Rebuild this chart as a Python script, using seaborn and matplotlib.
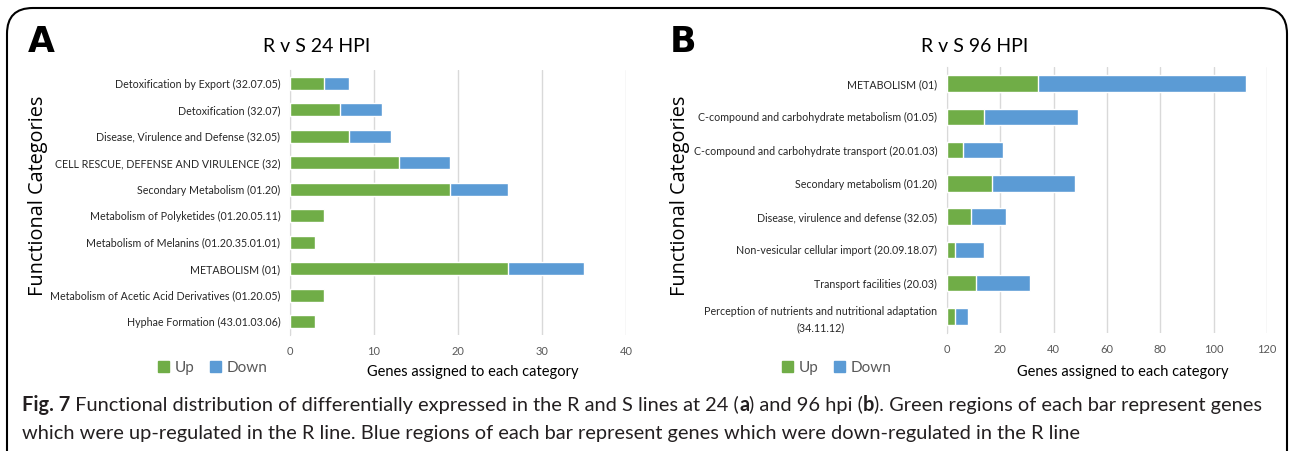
import numpy as np
import pandas as pd
import matplotlib
matplotlib.use("Agg")
import matplotlib.pyplot as plt
from matplotlib.patches import FancyBboxPatch, Patch
import seaborn as sns

CATS_24 = [
    "Detoxification by Export (32.07.05)",
    "Detoxification (32.07)",
    "Disease, Virulence and Defense (32.05)",
    "CELL RESCUE, DEFENSE AND VIRULENCE (32)",
    "Secondary Metabolism (01.20)",
    "Metabolism of Polyketides (01.20.05.11)",
    "Metabolism of Melanins (01.20.35.01.01)",
    "METABOLISM (01)",
    "Metabolism of Acetic Acid Derivatives (01.20.05)",
    "Hyphae Formation (43.01.03.06)",
]
UP_24 = [4, 6, 7, 13, 19, 4, 3, 26, 4, 3]
DOWN_24 = [3, 5, 5, 6, 7, 0, 0, 9, 0, 0]

CATS_96 = [
    "METABOLISM (01)",
    "C-compound and carbohydrate metabolism (01.05)",
    "C-compound and carbohydrate transport (20.01.03)",
    "Secondary metabolism (01.20)",
    "Disease, virulence and defense (32.05)",
    "Non-vesicular cellular import (20.09.18.07)",
    "Transport facilities (20.03)",
    "Perception of nutrients and nutritional adaptation\n(34.11.12)",
]
UP_96 = [34, 14, 6, 17, 9, 3, 11, 3]
DOWN_96 = [78, 35, 15, 31, 13, 11, 20, 5]

GREEN = "#70AD47"
BLUE = "#5B9BD5"
GRID = "#D9D9D9"
FONT = ["Lato", "DejaVu Sans"]

sns.set_style("white")
plt.rcParams["font.family"] = FONT

fig = plt.figure(figsize=(12.9, 4.51), dpi=100)


def draw_panel(ax, cats, up, down, xmax, step):
    df = pd.DataFrame({"cat": cats, "up": up, "total": np.add(up, down)})
    sns.barplot(data=df, x="total", y="cat", orient="h", color=BLUE,
                saturation=1, width=0.5, ax=ax, zorder=3)
    sns.barplot(data=df, x="up", y="cat", orient="h", color=GREEN,
                saturation=1, width=0.5, ax=ax, zorder=4)
    ax.set_xlim(0, xmax)
    ax.set_ylim(len(cats) - 0.5, -0.5)
    ax.set_xticks(np.arange(0, xmax + 1, step))
    ax.grid(axis="x", color=GRID, lw=1, zorder=0)
    for s in ["top", "right", "bottom"]:
        ax.spines[s].set_visible(False)
    ax.spines["left"].set_color(GRID)
    ax.tick_params(axis="both", length=0)
    ax.tick_params(axis="x", labelsize=8, labelcolor="#595959", pad=8)
    ax.tick_params(axis="y", labelsize=7.7, labelcolor="#262626", pad=7)
    ax.set_xlabel("")
    ax.set_ylabel("")
    for lab in ax.get_yticklabels():
        lab.set_multialignment("center")
        lab.set_linespacing(1.6)


ax1 = fig.add_axes([290 / 1290, 1 - 335 / 451, 336 / 1290, 265 / 451])
draw_panel(ax1, CATS_24, UP_24, DOWN_24, 40, 10)
ax2 = fig.add_axes([947 / 1290, 1 - 333 / 451, 320 / 1290, 266 / 451])
draw_panel(ax2, CATS_96, UP_96, DOWN_96, 120, 20)

# panel letters, titles, axis labels
for px, tx, letter, title in [(28, 317, "A", "R v S 24 HPI"), (670, 975, "B", "R v S 96 HPI")]:
    fig.text(px / 1290, 1 - 42 / 451, letter, fontsize=25, fontweight="bold",
             family=["DejaVu Sans"], va="center", ha="left", color="black")
    fig.text(tx / 1290, 1 - 46 / 451, title, fontsize=14, va="center", ha="center", color="black")

for x, y in [(38, 196), (680, 196)]:
    fig.text(x / 1290, 1 - y / 451, "Functional Categories", rotation=90, fontsize=14.3,
             family=["Open Sans", "DejaVu Sans"], va="center", ha="center", color="black")

for x in [473, 1123]:
    fig.text(x / 1290, 1 - 372 / 451, "Genes assigned to each category", fontsize=10.5,
             va="center", ha="center", color="black")

handles = [Patch(color=GREEN, label="Up"), Patch(color=BLUE, label="Down")]
for x in [213, 837]:
    fig.legend(handles=handles, loc="center", bbox_to_anchor=(x / 1290, 1 - 368 / 451),
               ncol=2, frameon=False, fontsize=11, handlelength=0.7, handleheight=0.7,
               handletextpad=0.4, columnspacing=1.0, labelcolor="#595959")

# caption
fig.canvas.draw()
renderer = fig.canvas.get_renderer()


def rich_line(x, y, parts):
    for s, w in parts:
        t = fig.text(x, y, s, fontsize=14.4, fontweight=w, va="center", ha="left", color="#231F20")
        bb = t.get_window_extent(renderer=renderer)
        x += bb.width / fig.bbox.width


rich_line(22 / 1290, 1 - 405 / 451, [
    ("Fig. 7", "bold"),
    (" Functional distribution of differentially expressed in the R and S lines at 24 (", "normal"),
    ("a", "bold"), (") and 96 hpi (", "normal"), ("b", "bold"),
    ("). Green regions of each bar represent genes", "normal"),
])
rich_line(22 / 1290, 1 - 433 / 451, [
    ("which were up-regulated in the R line. Blue regions of each bar represent genes which were down-regulated in the R line", "normal"),
])

# rounded frame
frame = FancyBboxPatch((7 / 1290, -0.2), 1280 / 1290, 1.2 - 8 / 451,
                       boxstyle="round,pad=0,rounding_size=0.02", transform=fig.transFigure,
                       fill=False, lw=1.5, edgecolor="black", mutation_aspect=1290 / 451)
fig.patches.append(frame)

fig.savefig("out.png", dpi=100)
